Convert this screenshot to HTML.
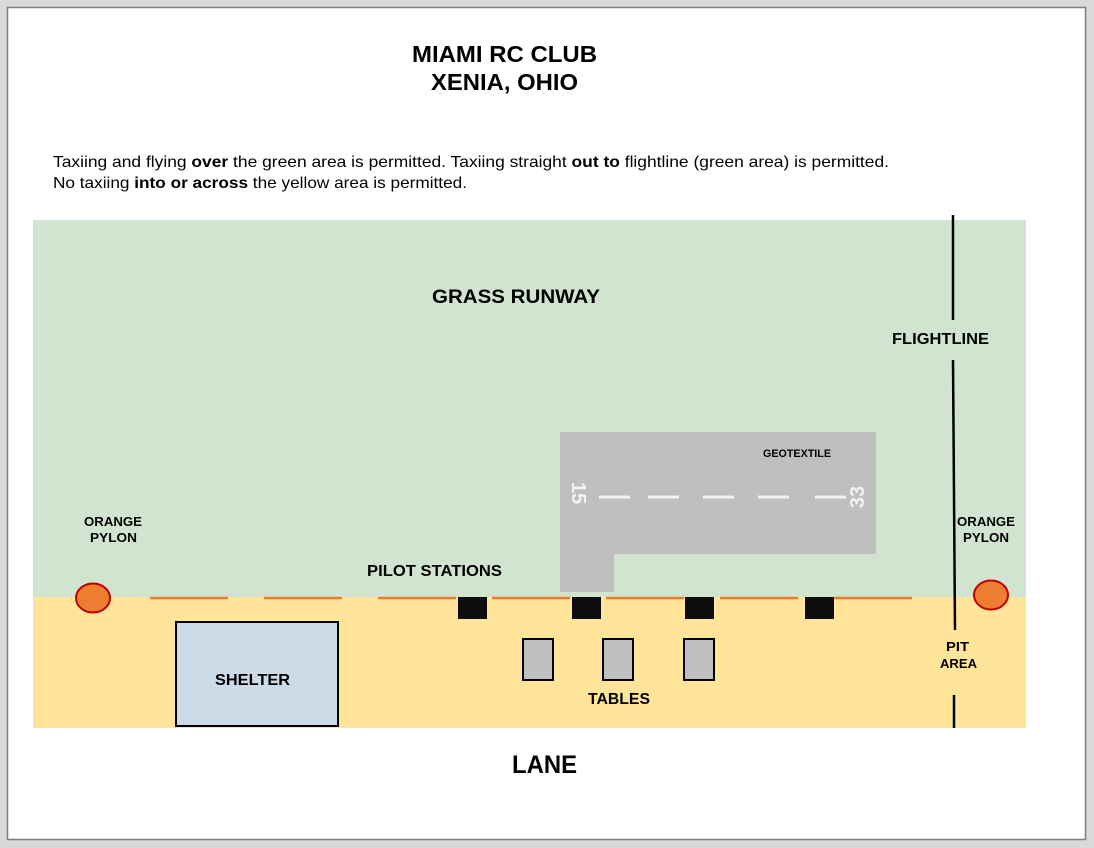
<!DOCTYPE html>
<html><head><meta charset="utf-8"><style>
html,body{margin:0;padding:0;background:#d9d9d9;}
svg{display:block}
.h{font-family:"Liberation Sans",sans-serif;font-weight:bold;fill:#000}
.b{font-family:"Liberation Sans",sans-serif;fill:#000;font-size:16px}
</style></head><body>
<svg width="1094" height="848" viewBox="0 0 1094 848" xmlns="http://www.w3.org/2000/svg">
<rect x="0" y="0" width="1094" height="848" fill="#d9d9d9"/>
<rect x="7.5" y="7.5" width="1078" height="832" fill="#fff" stroke="#7f7f7f" stroke-width="1.5"/>
<text class="h" x="412" y="62" font-size="23" textLength="185" lengthAdjust="spacingAndGlyphs">MIAMI RC CLUB</text>
<text class="h" x="431" y="90" font-size="23" textLength="147" lengthAdjust="spacingAndGlyphs">XENIA, OHIO</text>
<text class="b" x="53" y="167" textLength="836" lengthAdjust="spacingAndGlyphs">Taxiing and flying <tspan font-weight="bold">over</tspan> the green area is permitted. Taxiing straight <tspan font-weight="bold">out to</tspan> flightline (green area) is permitted.</text>
<text class="b" x="53" y="188" textLength="414" lengthAdjust="spacingAndGlyphs">No taxiing <tspan font-weight="bold">into or across</tspan> the yellow area is permitted.</text>
<rect x="33" y="220" width="993" height="377" fill="#d0e4d0"/>
<rect x="33" y="597" width="993" height="131" fill="#ffe499"/>
<text class="h" x="432" y="303" font-size="19" textLength="168" lengthAdjust="spacingAndGlyphs">GRASS RUNWAY</text>
<text class="h" x="892" y="344" font-size="16" textLength="97" lengthAdjust="spacingAndGlyphs">FLIGHTLINE</text>
<rect x="560" y="432" width="316" height="122" fill="#bfbfbf"/>
<rect x="560" y="554" width="54" height="38" fill="#bfbfbf"/>
<text class="h" x="763" y="457" font-size="11" textLength="68" lengthAdjust="spacingAndGlyphs">GEOTEXTILE</text>
<g stroke="#f2f2f2" stroke-width="3">
<line x1="599" y1="497" x2="630" y2="497"/><line x1="648" y1="497" x2="679" y2="497"/><line x1="703" y1="497" x2="734" y2="497"/><line x1="758" y1="497" x2="789" y2="497"/><line x1="815" y1="497" x2="846" y2="497"/>
</g>
<text x="0" y="0" transform="translate(572,493) rotate(90)" font-family="Liberation Sans" font-weight="bold" font-size="20" fill="#f2f2f2" text-anchor="middle">15</text>
<text x="0" y="0" transform="translate(864,497) rotate(-90)" font-family="Liberation Sans" font-weight="bold" font-size="20" fill="#f2f2f2" text-anchor="middle">33</text>
<line x1="953" y1="215" x2="953" y2="320" stroke="#000" stroke-width="2.5"/>
<line x1="953" y1="360" x2="955" y2="630" stroke="#000" stroke-width="2.5"/>
<line x1="954" y1="695" x2="954" y2="728" stroke="#000" stroke-width="2.5"/>
<line x1="150" y1="598" x2="912" y2="598" stroke="#ed7d31" stroke-width="2.5" stroke-dasharray="78 36"/>
<ellipse cx="93" cy="598" rx="17" ry="14.5" fill="#ed7d31" stroke="#c00000" stroke-width="2"/>
<ellipse cx="991" cy="595" rx="17" ry="14.5" fill="#ed7d31" stroke="#c00000" stroke-width="2"/>
<text class="h" x="84" y="526" font-size="13" textLength="58" lengthAdjust="spacingAndGlyphs">ORANGE</text>
<text class="h" x="90" y="542" font-size="13" textLength="47" lengthAdjust="spacingAndGlyphs">PYLON</text>
<text class="h" x="957" y="526" font-size="13" textLength="58" lengthAdjust="spacingAndGlyphs">ORANGE</text>
<text class="h" x="963" y="542" font-size="13" textLength="46" lengthAdjust="spacingAndGlyphs">PYLON</text>
<text class="h" x="367" y="576" font-size="16" textLength="135" lengthAdjust="spacingAndGlyphs">PILOT STATIONS</text>
<g fill="#0d0d0d">
<rect x="458" y="597" width="29" height="22"/><rect x="572" y="597" width="29" height="22"/><rect x="685" y="597" width="29" height="22"/><rect x="805" y="597" width="29" height="22"/>
</g>
<g fill="#bfbfbf" stroke="#000" stroke-width="2">
<rect x="523" y="639" width="30" height="41"/><rect x="603" y="639" width="30" height="41"/><rect x="684" y="639" width="30" height="41"/>
</g>
<text class="h" x="588" y="704" font-size="16" textLength="62" lengthAdjust="spacingAndGlyphs">TABLES</text>
<rect x="176" y="622" width="162" height="104" fill="#ccdbe8" stroke="#000" stroke-width="2"/>
<text class="h" x="215" y="685" font-size="16" textLength="75" lengthAdjust="spacingAndGlyphs">SHELTER</text>
<text class="h" x="946" y="651" font-size="13" textLength="23" lengthAdjust="spacingAndGlyphs">PIT</text>
<text class="h" x="940" y="668" font-size="13" textLength="37" lengthAdjust="spacingAndGlyphs">AREA</text>
<text class="h" x="512" y="773" font-size="25" textLength="65" lengthAdjust="spacingAndGlyphs">LANE</text>
</svg>
</body></html>
